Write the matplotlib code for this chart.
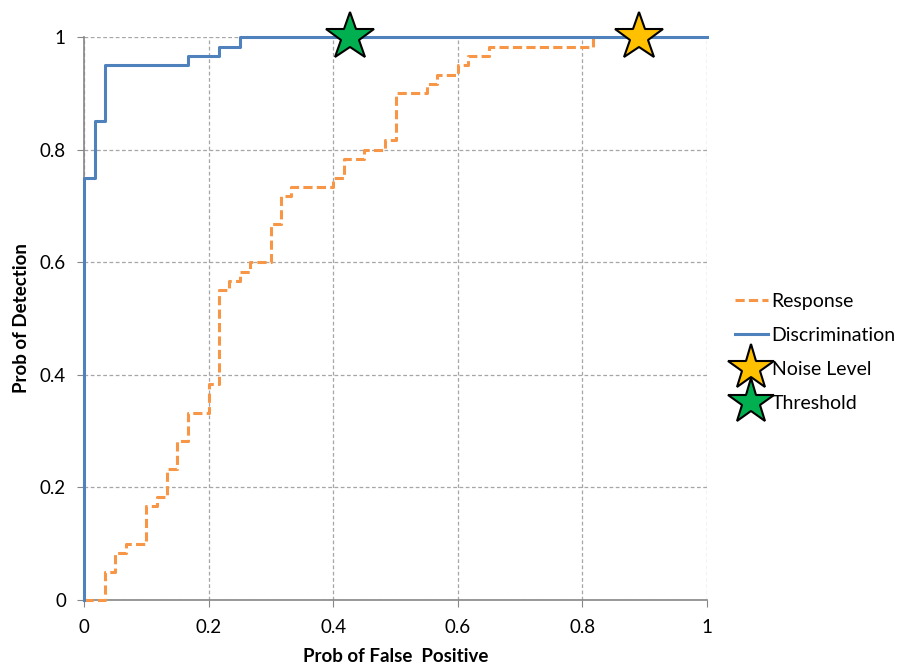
import matplotlib.pyplot as plt

# step curves (x where the step happens, new y)
resp_x = [0, 0.033, 0.05, 0.067, 0.1, 0.117, 0.133, 0.15, 0.167, 0.2, 0.217, 0.233,
          0.25, 0.267, 0.3, 0.317, 0.333, 0.4, 0.417, 0.45, 0.483, 0.5, 0.55, 0.567,
          0.6, 0.617, 0.65, 0.817]
resp_y = [0, 0.05, 0.083, 0.1, 0.167, 0.183, 0.233, 0.283, 0.333, 0.383, 0.55, 0.567,
          0.583, 0.6, 0.667, 0.717, 0.733, 0.75, 0.783, 0.8, 0.817, 0.9, 0.917, 0.933,
          0.95, 0.967, 0.983, 1.0]

disc_x = [0, 0, 0.017, 0.033, 0.167, 0.217, 0.25, 1.0]
disc_y = [0, 0.75, 0.85, 0.95, 0.967, 0.983, 1.0, 1.0]

noise_pt = (0.891, 1.0)
thresh_pt = (0.427, 1.0)

ticks = [0, 0.2, 0.4, 0.6, 0.8, 1]
tick_labels = ["0", "0.2", "0.4", "0.6", "0.8", "1"]

plt.rcParams['font.family'] = ['Lato', 'DejaVu Sans']

fig = plt.figure(figsize=(9.09, 6.71), dpi=100)
ax = fig.add_axes([0.0924, 0.1058, 0.6854, 0.8391])

ax.step(resp_x, resp_y, where='post', color='#F79646', lw=2.2,
        dashes=(3, 1.4), label='Response', clip_on=False, zorder=3)
ax.step(disc_x, disc_y, where='post', color='#4F81BD', lw=2.2,
        label='Discrimination', clip_on=False, zorder=4)
ax.plot(*noise_pt, marker='*', ms=36, mfc='#FFC000', mec='black', mew=1.5,
        ls='none', label='Noise Level', clip_on=False, zorder=5)
ax.plot(*thresh_pt, marker='*', ms=36, mfc='#00B050', mec='black', mew=1.5,
        ls='none', label='Threshold', clip_on=False, zorder=5)

ax.set_xlim(0, 1)
ax.set_ylim(0, 1)
ax.set_xticks(ticks)
ax.set_xticklabels(tick_labels)
ax.set_yticks(ticks)
ax.set_yticklabels(tick_labels)
ax.tick_params(labelsize=13.5, length=5, color='#868686')
ax.tick_params(axis='y', pad=8)
ax.tick_params(axis='x', pad=9)
ax.grid(True, color='#A6A6A6', ls=(0, (3, 2)), lw=0.9)
ax.set_axisbelow(True)
for s in ['top', 'right']:
    ax.spines[s].set_visible(False)
for s in ['left', 'bottom']:
    ax.spines[s].set_color('#868686')
    ax.spines[s].set_linewidth(1.2)

ax.set_xlabel("Prob of False  Positive", fontsize=13.5, fontweight='bold', labelpad=8)
ax.set_ylabel("Prob of Detection", fontsize=13.5, fontweight='bold', labelpad=7)

fig.legend(*ax.get_legend_handles_labels(), loc='center left',
           bbox_to_anchor=(0.789, 0.475), frameon=False,
           fontsize=14, handlelength=1.7, handletextpad=0.2, labelspacing=0.88,
           markerscale=0.95)

fig.savefig("out.png", dpi=100)
